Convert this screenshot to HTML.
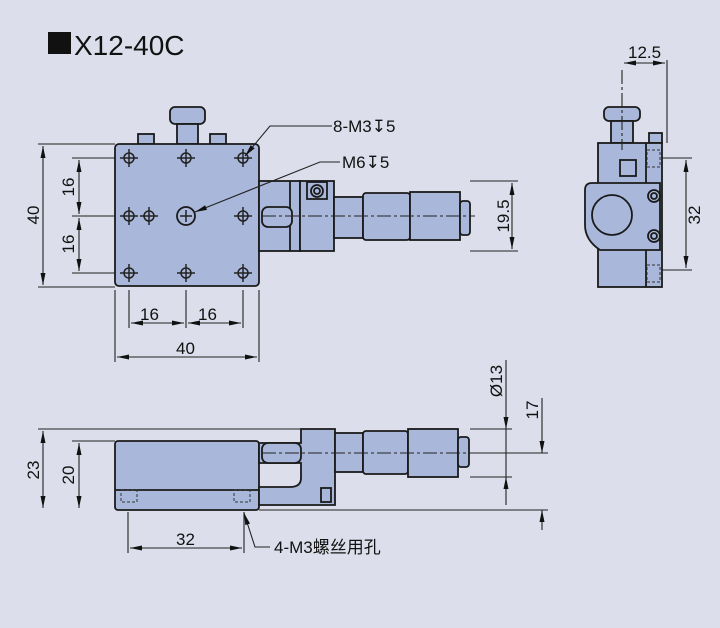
<!DOCTYPE html>
<html><head><meta charset="utf-8"><style>
html,body{margin:0;padding:0;background:#dcdfeb;}
svg{display:block;}
text{font-family:"Liberation Sans","Noto Sans CJK SC",sans-serif;fill:#111;}
</style></head><body>
<svg width="720" height="628" viewBox="0 0 720 628" xmlns="http://www.w3.org/2000/svg">
<defs>
<marker id="a" viewBox="0 0 12 5" refX="12" refY="2.5" markerWidth="12" markerHeight="5" markerUnits="userSpaceOnUse" orient="auto-start-reverse"><path d="M0,0 L12,2.5 L0,5z" fill="#111"/></marker>
<g id="h" stroke="#222" stroke-width="1.5" fill="none"><circle r="5"/><path d="M-9,0H9M0,-9V9"/></g>
</defs>
<rect width="720" height="628" fill="#dcdfeb"/>
<rect x="48" y="32" width="23" height="22" fill="#111"/>
<text x="74" y="55" font-size="28">X12-40C</text>

<g stroke="#1a1a1a" stroke-width="1.8" fill="#a9b8da">
<!-- TOP VIEW -->
<rect x="170" y="107" width="35" height="17" rx="5"/>
<rect x="177" y="124" width="21" height="20"/>
<rect x="138" y="134" width="16" height="10"/>
<rect x="210" y="134" width="16" height="10"/>
<rect x="115" y="144" width="144" height="142" rx="4"/>
<rect x="259" y="181" width="41" height="70"/>
<line x1="290" y1="181" x2="290" y2="251"/>
<rect x="300" y="181" width="34" height="70"/>
<rect x="262" y="207" width="30" height="20" rx="6"/>
<rect x="334" y="197" width="29" height="41"/>
<rect x="363" y="193" width="47" height="47" rx="3"/>
<rect x="410" y="192" width="50" height="48"/>
<rect x="460" y="201" width="10" height="34" rx="3"/>
<rect x="307" y="182" width="20" height="17" fill="#a9b8da"/>
<circle cx="317" cy="191" r="6" fill="none"/><circle cx="317" cy="191" r="3" fill="none"/>
<circle cx="186" cy="216" r="9" fill="none"/>
<!-- SIDE VIEW -->
<rect x="604" y="107" width="36" height="14" rx="5"/>
<rect x="611" y="121" width="22" height="22"/>
<rect x="649" y="133" width="13" height="10"/>
<rect x="598" y="143" width="64" height="144"/>
<line x1="646" y1="143" x2="646" y2="287"/>
<rect x="620" y="160" width="16" height="16"/>
<path d="M592,183 H660 V250 H600 Q585,240 585,225 V190 Q585,183 592,183z"/>
<circle cx="612" cy="215" r="20" fill="#a9b8da"/>
<circle cx="654" cy="196" r="6"/><circle cx="654" cy="196" r="3"/>
<circle cx="654" cy="236" r="6"/><circle cx="654" cy="236" r="3"/>
<!-- FRONT VIEW -->
<rect x="115" y="441" width="144" height="69" rx="3"/>
<line x1="115" y1="490" x2="259" y2="490"/>
<path d="M259,443 H301 V429 H335 V505 H259 V487 H290 Q301,487 301,478 V463 H259z"/>
<rect x="262" y="443" width="39" height="20" rx="6"/>
<rect x="335" y="433" width="28" height="39"/>
<rect x="363" y="431" width="45" height="43" rx="3"/>
<rect x="408" y="429" width="50" height="48"/>
<rect x="458" y="437" width="11" height="30" rx="3"/>
<rect x="321" y="488" width="10" height="14"/>
</g>
<use href="#h" x="129" y="158"/><use href="#h" x="186" y="158"/><use href="#h" x="243" y="158"/>
<use href="#h" x="129" y="216"/><use href="#h" x="149" y="216"/><use href="#h" x="243" y="216"/>
<use href="#h" x="129" y="273"/><use href="#h" x="186" y="273"/><use href="#h" x="243" y="273"/>
<path d="M180,216H192M186,210V222" stroke="#222" stroke-width="1.5"/>
<g stroke="#333" stroke-width="1" fill="none" stroke-dasharray="3,2">
<rect x="121" y="490" width="16" height="12"/><rect x="234" y="490" width="16" height="12"/>
<rect x="647" y="150" width="13" height="17"/><rect x="647" y="265" width="13" height="17"/>
</g>
<g stroke="#222" stroke-width="1.1" fill="none">
<path stroke-dasharray="14,3,3,3" d="M262,216H475M262,453H480M622,70V150"/>
<path d="M38,144H115M38,287H115M72,158H115M72,216H115M72,273H115"/>
<path d="M115,290V362M259,290V362M129,290V328M186,290V328M243,290V328"/>
<path d="M470,181H518M470,251H518M662,158H692M662,270H692"/>
<path d="M667,60V143"/>
<path d="M38,429H301M72,441H115M128,512V553M244,512V553M470,429H512M470,477H512M480,453H548M259,510H548"/>
<path d="M43,146V285" marker-start="url(#a)" marker-end="url(#a)"/>
<path d="M79,160V214" marker-start="url(#a)" marker-end="url(#a)"/>
<path d="M79,218V271" marker-start="url(#a)" marker-end="url(#a)"/>
<path d="M131,323H184" marker-start="url(#a)" marker-end="url(#a)"/>
<path d="M188,323H241" marker-start="url(#a)" marker-end="url(#a)"/>
<path d="M117,357H257" marker-start="url(#a)" marker-end="url(#a)"/>
<path d="M512,183V249" marker-start="url(#a)" marker-end="url(#a)"/>
<path d="M624,63H665" marker-start="url(#a)" marker-end="url(#a)"/>
<path d="M686,160V268" marker-start="url(#a)" marker-end="url(#a)"/>
<path d="M43,431V508" marker-start="url(#a)" marker-end="url(#a)"/>
<path d="M79,443V508" marker-start="url(#a)" marker-end="url(#a)"/>
<path d="M130,548H242" marker-start="url(#a)" marker-end="url(#a)"/>
<path d="M506,360V429" marker-end="url(#a)"/><path d="M506,505V477" marker-end="url(#a)"/><path d="M506,429V477"/>
<path d="M542,398V453" marker-end="url(#a)"/><path d="M542,530V510" marker-end="url(#a)"/>
<path d="M332,126H270L245,156" marker-end="url(#a)"/>
<path d="M340,162H320L195,212" marker-end="url(#a)"/>
<path d="M270,547H255L244,513" marker-end="url(#a)"/>
</g>
<g font-size="17">
<text x="333" y="132">8-M3↧5</text>
<text x="342" y="168">M6↧5</text>
<text x="140" y="320">16</text><text x="198" y="320">16</text>
<text x="176" y="354">40</text>
<text x="628" y="58">12.5</text>
<text x="176" y="545">32</text>
<text x="274" y="553">4-M3螺丝用孔</text>
<text transform="translate(39,215) rotate(-90)" text-anchor="middle">40</text>
<text transform="translate(74,187) rotate(-90)" text-anchor="middle">16</text>
<text transform="translate(74,244) rotate(-90)" text-anchor="middle">16</text>
<text transform="translate(509,216) rotate(-90)" text-anchor="middle">19.5</text>
<text transform="translate(700,215) rotate(-90)" text-anchor="middle">32</text>
<text transform="translate(39,470) rotate(-90)" text-anchor="middle">23</text>
<text transform="translate(74,475) rotate(-90)" text-anchor="middle">20</text>
<text transform="translate(502,381) rotate(-90)" text-anchor="middle">Ø13</text>
<text transform="translate(538,410) rotate(-90)" text-anchor="middle">17</text>
</g>
</svg>
</body></html>
